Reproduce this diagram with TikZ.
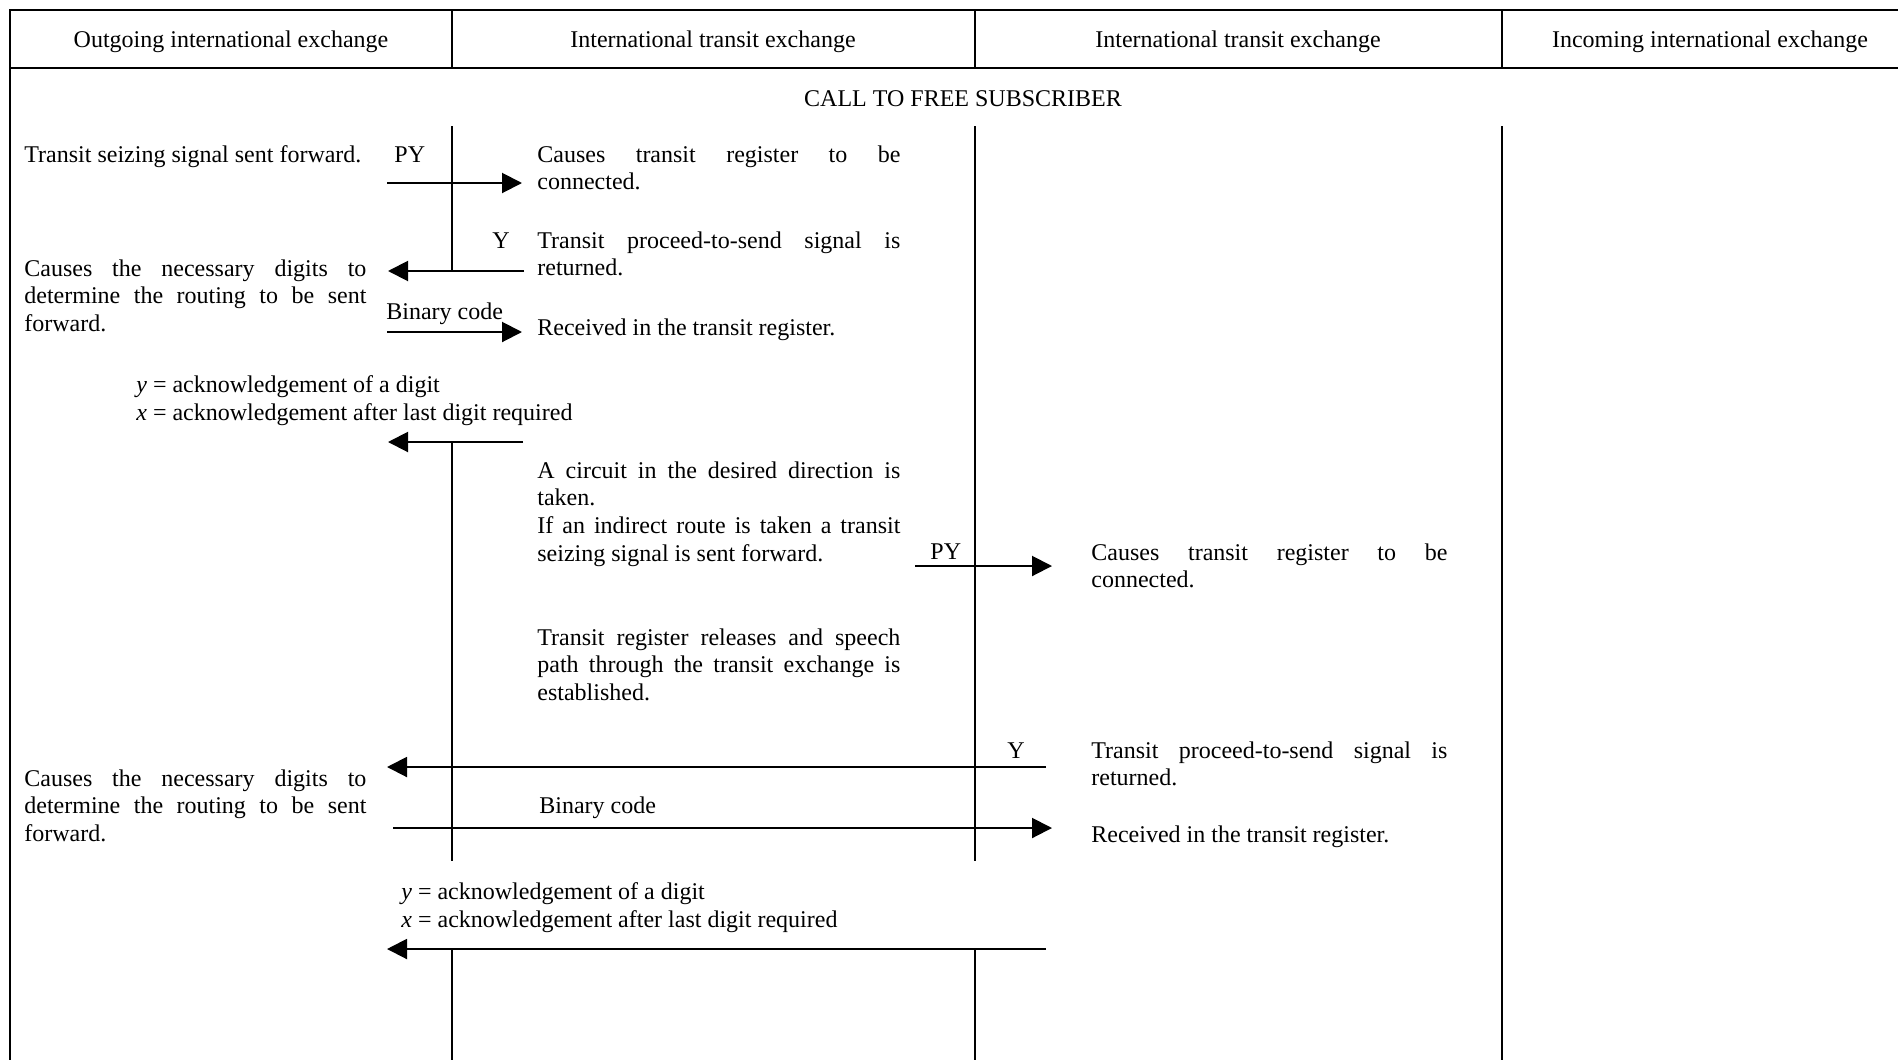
\documentclass[tikz,border=0pt]{standalone}
\usepackage{fontspec}
\setmainfont{Liberation Serif}
\usetikzlibrary{arrows.meta,positioning}
\setlength{\parindent}{0pt}
\hyphenpenalty=10000
\exhyphenpenalty=10000
\tolerance=10000

\begin{document}
\begin{tikzpicture}[x=0.5pt, y=-0.5pt, font=\fontsize{12}{13.9}\selectfont,
	txt/.style={inner sep=0pt, anchor=base west},
	blk/.style={txt, text width=#1, align=justify},
	msg/.style={line width=1pt, -{Triangle[length=10pt, width=10pt]}},
	lane/.style={line width=1pt}]
	\useasboundingbox (0,0) rectangle (1898,1060);

	% frame, header and lifelines
	\draw[lane] (1898,10) -- (10,10) -- (10,1060);
	\draw[lane] (10,68) -- (1898,68);
	\foreach \x in {452,975,1502}
		\draw[lane] (\x,10) -- (\x,68);
	\draw[lane] (452,126) -- (452,271) (452,442) -- (452,861) (452,949) -- (452,1060);
	\draw[lane] (975,126) -- (975,861) (975,949) -- (975,1060);
	\draw[lane] (1502,126) -- (1502,1060);

	\node (h1) at (231,42) {Outgoing international exchange};
	\node (h2) at (713,42) {International transit exchange};
	\node (h3) at (1238,42) {International transit exchange};
	\node (h4) at (1710,42) {Incoming international exchange};
	\node (title) at (963,99) {CALL TO FREE SUBSCRIBER};

	\node[txt] (0) at (24,162) {Transit seizing signal sent forward.};
	\node[txt] (py1) at (394,162) {PY};
	\node[blk=181.5pt] (1) at (537,162) {Causes transit register to be\linebreak connected.};
	\node[txt] (y1) at (492,248) {Y};
	\node[blk=181.5pt] (2) at (537,248) {Transit proceed-to-send signal is\linebreak returned.};
	\node[blk=171pt] (3) at (24,276) {Causes the necessary digits to\linebreak determine the routing to be sent\linebreak forward.};
	\node[txt] (bin1) at (386,319) {Binary code};
	\node[txt] (4) at (537,335) {Received in the transit register.};
	% base of the last line
	\node[txt, align=left] (ack1) at (136,420) {\textit{y} = acknowledgement of a digit\\\textit{x} = acknowledgement after last digit required};
	\node[blk=181.5pt] (5) at (537,478) {A circuit in the desired direction is\linebreak taken.\par If an indirect route is taken a transit\linebreak seizing signal is sent forward.};
	\node[txt] (py2) at (930,559) {PY};
	\node[blk=178pt] (6) at (1091,560) {Causes transit register to be\linebreak connected.};
	\node[blk=181.5pt] (7) at (537,645) {Transit register releases and speech\linebreak path through the transit exchange is\linebreak established.};
	\node[txt] (y2) at (1007,758) {Y};
	\node[blk=178pt] (8) at (1091,758) {Transit proceed-to-send signal is\linebreak returned.};
	\node[blk=171pt] (9) at (24,786) {Causes the necessary digits to\linebreak determine the routing to be sent\linebreak forward.};
	\node[txt] (bin2) at (539,813) {Binary code};
	\node[txt] (10) at (1091,842) {Received in the transit register.};
	\node[txt, align=left] (ack2) at (401,927) {\textit{y} = acknowledgement of a digit\\\textit{x} = acknowledgement after last digit required};

	% signal ends
	\coordinate (a1) at (387,183);  \coordinate (b1) at (522,183);
	\coordinate (a2) at (524,271);  \coordinate (b2) at (388,271);
	\coordinate (a3) at (387,332);  \coordinate (b3) at (522,332);
	\coordinate (a4) at (523,442);  \coordinate (b4) at (388,442);
	\coordinate (a5) at (915,566);  \coordinate (b5) at (1052,566);
	\coordinate (a6) at (1046,767); \coordinate (b6) at (387,767);
	\coordinate (a7) at (393,828);  \coordinate (b7) at (1052,828);
	\coordinate (a8) at (1046,949); \coordinate (b8) at (387,949);

	\path[msg]
		(a1) edge (b1)
		(a2) edge (b2)
		(a3) edge (b3)
		(a4) edge (b4)
		(a5) edge (b5)
		(a6) edge (b6)
		(a7) edge (b7)
		(a8) edge (b8);
\end{tikzpicture}
\end{document}
